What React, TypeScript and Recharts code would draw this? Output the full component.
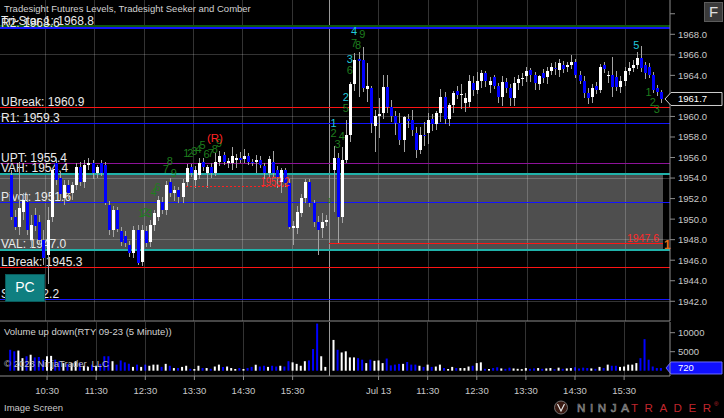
import React from 'react';
import { ComposedChart, Bar, XAxis, YAxis, ReferenceLine, ReferenceArea, ReferenceDot, Cell } from 'recharts';

const FONT = "'Liberation Sans', Arial, sans-serif";

// RTY 09-23, 5 minute bars, two sessions (slot index = bar)
const opens: (number | null)[] = [
  null, null,
  1954.3, 1950.2, 1949.2, 1950.7, 1951.7, 1948.0, 1950.4, 1949.7, 1948.0, 1946.5,
  1950.2, 1955.5, 1954.0, 1952.1, 1953.3, 1952.5, 1953.3, 1955.1, 1953.6, 1955.3,
  1955.5, 1954.5, 1955.5, 1955.3, 1951.4, 1948.9, 1950.9, 1948.8, 1948.4, 1947.5,
  1946.7, 1948.9, 1945.8, 1948.8, 1947.8, 1949.4, 1950.2, 1951.7, 1950.9, 1953.6,
  1952.5, 1952.8, 1952.2, 1953.6, 1955.1, 1953.8, 1954.3, 1955.6, 1954.5, 1955.1,
  1954.5, 1955.6, 1956.2, 1955.5, 1955.5, 1955.8, 1956.0, 1955.9, 1956.1, 1955.6,
  1955.6, 1955.8, 1955.2, 1954.5, 1955.6, 1954.8, 1953.6, 1954.8, 1953.5, 1949.1,
  1949.1, 1950.6, 1952.1, 1953.6, 1951.6, 1949.7, 1949.1, 1949.7, null,
  1954.8, 1956.0, 1950.2, 1955.8, 1958.2, 1963.2, 1965.6, 1965.5, 1962.7, 1962.8,
  1959.1, 1960.0, 1960.3, 1962.9, 1960.9, 1960.0, 1959.4, 1957.7, 1959.8, 1959.7,
  1958.4, 1956.7, 1958.2, 1958.4, 1959.8, 1959.3, 1960.3, 1961.9, 1959.8, 1961.1,
  1962.5, 1962.1, 1961.3, 1961.4, 1963.3, 1962.6, 1963.5, 1964.2, 1963.1, 1963.8,
  1963.0, 1961.9, 1963.4, 1962.8, 1961.8, 1963.3, 1963.6, 1963.9, 1964.5, 1964.0,
  1963.2, 1964.2, 1963.8, 1964.4, 1964.7, 1964.5, 1965.0, 1964.8, 1965.0, 1965.3,
  1964.0, 1963.5, 1962.3, 1961.9, 1963.0, 1962.6, 1965.0, 1963.9, 1964.0, 1963.8,
  1962.9, 1963.5, 1964.4, 1964.7, 1965.0, 1965.7, 1965.0, 1964.8, 1964.0, 1962.8,
  1962.4,
];
const highs: (number | null)[] = [
  null, null,
  1954.8, 1950.9, 1955.6, 1952.5, 1952.4, 1950.4, 1951.1, 1950.4, 1948.9, 1951.2,
  1955.0, 1956.0, 1954.6, 1953.8, 1953.8, 1953.6, 1955.5, 1955.6, 1955.8, 1956.0,
  1955.8, 1955.3, 1955.8, 1955.6, 1951.8, 1951.3, 1951.2, 1949.2, 1948.8, 1947.9,
  1949.3, 1949.4, 1949.4, 1949.3, 1949.9, 1950.9, 1952.3, 1952.2, 1953.7, 1954.0,
  1953.2, 1953.1, 1953.9, 1955.4, 1955.4, 1955.2, 1956.0, 1956.0, 1955.3, 1955.5,
  1956.4, 1956.6, 1956.5, 1956.0, 1957.0, 1956.3, 1956.5, 1956.8, 1956.4, 1955.9,
  1956.2, 1956.1, 1955.5, 1956.1, 1956.6, 1955.2, 1955.0, 1955.0, 1953.9, 1949.8,
  1951.3, 1952.4, 1953.9, 1953.9, 1951.9, 1950.3, 1950.6, 1950.4, null,
  1957.1, 1956.4, 1957.0, 1959.7, 1963.4, 1966.2, 1966.3, 1966.8, 1965.2, 1963.0,
  1960.6, 1961.8, 1964.0, 1964.0, 1961.6, 1960.5, 1960.3, 1960.0, 1960.2, 1960.6,
  1959.0, 1959.0, 1959.5, 1960.3, 1960.2, 1960.5, 1962.7, 1962.4, 1961.3, 1962.5,
  1963.0, 1963.2, 1962.3, 1964.0, 1963.9, 1964.3, 1964.5, 1964.4, 1963.8, 1964.0,
  1963.3, 1963.9, 1963.7, 1963.2, 1963.8, 1964.0, 1964.2, 1964.8, 1964.7, 1964.3,
  1964.0, 1964.6, 1964.8, 1965.2, 1965.3, 1965.6, 1965.4, 1965.3, 1966.0, 1965.6,
  1964.4, 1963.9, 1962.8, 1963.2, 1963.4, 1965.1, 1965.3, 1964.4, 1965.8, 1964.4,
  1963.9, 1964.8, 1965.3, 1965.5, 1966.3, 1966.9, 1965.3, 1965.2, 1964.3, 1963.1,
  1962.6,
];
const lows: (number | null)[] = [
  null, null,
  1949.9, 1948.9, 1948.5, 1949.9, 1948.5, 1947.2, 1948.8, 1947.5, 1945.5, 1943.7,
  1949.7, 1953.3, 1951.9, 1951.4, 1952.0, 1951.9, 1952.8, 1953.2, 1953.0, 1954.8,
  1953.9, 1954.0, 1954.2, 1951.4, 1948.5, 1948.3, 1948.7, 1947.4, 1947.3, 1946.3,
  1946.2, 1945.5, 1945.4, 1947.3, 1947.3, 1948.8, 1949.8, 1950.5, 1950.4, 1952.2,
  1951.8, 1951.6, 1951.6, 1953.2, 1954.1, 1953.0, 1953.9, 1954.7, 1953.0, 1954.0,
  1954.2, 1955.2, 1955.3, 1955.0, 1954.8, 1955.0, 1955.5, 1955.5, 1955.3, 1955.2,
  1954.5, 1955.0, 1953.9, 1954.1, 1954.0, 1953.0, 1952.5, 1953.1, 1949.0, 1947.5,
  1948.6, 1950.2, 1951.6, 1951.2, 1949.2, 1946.5, 1948.2, 1949.3, null,
  1950.7, 1947.7, 1949.6, 1955.5, 1957.5, 1962.5, 1961.9, 1962.4, 1961.4, 1958.4,
  1956.5, 1957.9, 1959.8, 1960.3, 1959.5, 1958.2, 1957.2, 1956.5, 1958.9, 1958.1,
  1956.0, 1956.3, 1957.1, 1957.3, 1958.6, 1958.7, 1959.5, 1959.3, 1959.1, 1960.3,
  1961.7, 1960.7, 1960.4, 1960.9, 1962.0, 1962.2, 1962.8, 1962.9, 1962.3, 1962.7,
  1961.3, 1961.0, 1962.3, 1961.0, 1961.0, 1962.6, 1963.0, 1963.4, 1963.4, 1962.6,
  1962.6, 1963.3, 1963.2, 1964.0, 1964.0, 1963.8, 1964.2, 1964.3, 1964.6, 1963.7,
  1963.2, 1961.8, 1961.2, 1961.3, 1962.2, 1962.3, 1964.2, 1963.3, 1961.9, 1962.5,
  1962.3, 1963.0, 1964.0, 1964.3, 1964.6, 1964.3, 1963.6, 1963.7, 1962.3, 1962.0,
  1961.3,
];
const closes: (number | null)[] = [
  null, null,
  1950.2, 1949.2, 1951.1, 1951.9, 1948.9, 1949.4, 1949.3, 1948.0, 1946.2, 1949.9,
  1954.8, 1953.8, 1952.4, 1953.3, 1952.5, 1953.3, 1955.1, 1953.6, 1955.3, 1955.5,
  1954.5, 1955.1, 1954.5, 1951.6, 1948.9, 1950.9, 1949.0, 1947.8, 1947.7, 1946.7,
  1948.9, 1945.7, 1948.9, 1947.7, 1949.4, 1950.6, 1951.9, 1950.9, 1953.3, 1952.5,
  1952.8, 1952.2, 1953.5, 1955.0, 1954.5, 1954.8, 1955.5, 1955.1, 1955.1, 1954.5,
  1955.6, 1956.1, 1955.6, 1955.7, 1956.1, 1956.0, 1955.8, 1956.1, 1955.6, 1955.5,
  1955.8, 1955.3, 1954.5, 1955.9, 1954.5, 1954.1, 1954.8, 1953.5, 1949.2, 1949.3,
  1950.7, 1952.1, 1953.6, 1951.6, 1949.7, 1948.9, 1949.7, 1949.9, null,
  1956.0, 1950.2, 1955.8, 1958.2, 1963.2, 1965.5, 1965.4, 1962.8, 1963.0, 1959.4,
  1960.0, 1960.2, 1962.9, 1960.9, 1960.0, 1959.4, 1957.7, 1959.9, 1959.6, 1958.7,
  1956.7, 1958.2, 1958.1, 1959.7, 1959.3, 1960.3, 1961.9, 1959.8, 1961.1, 1962.3,
  1962.1, 1962.2, 1961.8, 1963.5, 1962.6, 1963.5, 1964.2, 1963.5, 1963.5, 1963.0,
  1961.9, 1963.4, 1962.8, 1961.8, 1963.3, 1963.6, 1963.7, 1964.4, 1964.0, 1963.3,
  1963.9, 1963.7, 1964.4, 1964.8, 1964.6, 1965.2, 1964.6, 1965.0, 1965.3, 1964.0,
  1963.5, 1962.3, 1961.8, 1962.8, 1962.6, 1964.8, 1964.6, 1964.0, 1962.9, 1962.9,
  1963.5, 1964.4, 1964.7, 1965.0, 1965.7, 1964.7, 1964.2, 1964.0, 1962.6, 1962.4,
  1961.7,
];
const volumes: (number | null)[] = [
  null, null,
  5500, 5100, 5300, 3300, 3800, 4200, 3500, 3600, 2900, 3800,
  3900, 2900, 2500, 2000, 1800, 2000, 2500, 2000, 1300, 1000,
  1600, 1300, 1800, 3800, 3800, 2500, 1600, 2700, 2200, 1800,
  1000, 1600, 1000, 1600, 1300, 1600, 1600, 1000, 1800, 1300,
  700, 700, 1000, 1300, 500, 450, 1300, 700, 700, 500,
  1100, 1600, 1000, 1100, 700, 450, 700, 450, 700, 1000,
  1600, 1100, 1300, 1000, 1300, 1100, 1300, 1100, 2500, 2200,
  1800, 1300, 2500, 2700, 5700, 12400, 3800, 1000, null,
  8100, 5500, 4800, 5100, 3500, 3500, 3300, 2900, 2000, 2900,
  2600, 2700, 2000, 3200, 1400, 1600, 1800, 1800, 2300, 1600,
  1600, 1300, 1000, 1600, 1000, 1100, 1600, 700, 450, 1000,
  700, 700, 700, 1100, 1300, 2000, 2200, 500, 450, 700,
  900, 600, 500, 800, 600, 500, 400, 700, 500, 600,
  700, 500, 600, 700, 400, 800, 500, 600, 700, 900,
  600, 800, 700, 600, 500, 1000, 700, 1600, 1300, 1300,
  1000, 1100, 1600, 1600, 2000, 3300, 8300, 2900, 1100, 700,
  720,
];

const xTickBars = [11, 23, 35, 47, 59, 71, 92, 104, 116, 128, 140, 152];
const xTickLabels = ['10:30', '11:30', '12:30', '13:30', '14:30', '15:30', 'Jul 13', '11:30', '12:30', '13:30', '14:30', '15:30'];
const sessionBreak = 80;
const priceTicks = [1942, 1944, 1946, 1948, 1950, 1952, 1954, 1956, 1958, 1960, 1962, 1964, 1966, 1968, 1970];
const gridPrices = [1942, 1948, 1954, 1960, 1966];
const volTicks = [5000, 10000];

const levelNames = ['Tri-Star 1', 'R2', 'UBreak', 'R1', 'UPT', 'VAH', 'Pivot', 'VAL', 'LBreak', 'S1'];
const levelValues = [1968.8, 1968.6, 1960.9, 1959.3, 1955.4, 1954.4, 1951.6, 1947.0, 1945.3, 1942.2];
const valueArea = [1947.0, 1954.4];
const dayOneHigh = 1953.2; // dotted line, bars 45..70
const dayTwoLow = 1947.6; // solid line from session start

const markBars = [34, 35, 36, 37, 38, 40, 41, 42, 45, 46, 47, 48, 49, 50, 51, 52, 53, 52, 80,
  81, 81, 82, 83, 84, 84, 85, 85, 86, 87, 86, 88, 155, 158, 159, 160];
const markPrices = [1950.6, 1950.7, 1950.6, 1952.6, 1953.1, 1954.9, 1955.7, 1954.45,
  1956.44, 1956.44, 1956.64, 1956.83, 1957.22, 1956.34, 1956.44, 1956.83, 1957.4, 1957.9, 1951.8,
  1959.4, 1958.4, 1957.3, 1958.1, 1961.85, 1960.8, 1965.6, 1964.5, 1967.2, 1966.96, 1968.3, 1968.0,
  1966.96, 1962.4, 1961.45, 1960.7];
const markTexts = ['1', '2', '3', '4', '6', '7', '8', '9', '1', '2', '3', '4', '5', '6', '7', '8', '9', '(R)', '1',
  '1', '2', '3', '4', '2', '5', '3', '6', '7', '8', '4', '9', '5', '1', '2', '3'];
const markKinds = ['count', 'count', 'count', 'count', 'count', 'count', 'count', 'count',
  'count', 'count', 'count', 'count', 'count', 'count', 'count', 'count', 'count', 'signal', 'small',
  'setup', 'count', 'count', 'count', 'setup', 'count', 'setup', 'count', 'count', 'count', 'setup', 'count',
  'setup', 'count', 'count', 'count'];

const levelStyle: Record<string, { color: string; width: number }> = {
  'Tri-Star 1': { color: '#0d560d', width: 2 },
  R2: { color: '#1414ff', width: 2 },
  UBreak: { color: '#ff1414', width: 1 },
  R1: { color: '#1414ff', width: 1 },
  UPT: { color: '#8e129a', width: 1 },
  VAH: { color: '#20b2aa', width: 2 },
  Pivot: { color: '#1414ff', width: 1 },
  VAL: { color: '#20b2aa', width: 2 },
  LBreak: { color: '#ff1414', width: 1 },
  S1: { color: '#1414ff', width: 1 },
};
const markStyle: Record<string, { fill: string; size: number }> = {
  count: { fill: '#1e7d1e', size: 11 },
  setup: { fill: '#20c8dc', size: 11 },
  signal: { fill: '#ff2424', size: 11.5 },
  small: { fill: '#1e7d1e', size: 8 },
};

const rows = opens.map((o, i) => ({
  i,
  range: o == null ? null : [lows[i], highs[i]],
  open: o,
  high: highs[i],
  low: lows[i],
  close: closes[i],
  vol: volumes[i],
}));

const W = 724;
const PRICE_H = 322;
const AXIS_W = 54;
const X_PAD = { left: 0, right: 7 };
const MARGIN = { top: 0, right: 0, bottom: 0, left: 0 };
const priceDomain: [number, number] = [1940.08, 1971.34];
const volDomain: [number, number] = [-1392, 12813];
const GRID = 'rgba(255,255,255,0.2)';
const AXIS = '#8c8c8c';
const tickStyle = { fill: '#c8c8c8', fontSize: 9.5, fontFamily: FONT };

function Candle(props: any) {
  const { x, y, width, height, payload } = props;
  if (!payload || payload.open == null) return null;
  const top = Math.min(y, y + height);
  const bottom = Math.max(y, y + height);
  const { open, close, high, low } = payload;
  const py = (p: number) => (high === low ? top : top + ((high - p) / (high - low)) * (bottom - top));
  const cx = Math.round(x + width / 2);
  const b0 = Math.round(py(Math.max(open, close)));
  const b1 = Math.round(py(Math.min(open, close)));
  return (
    <g shapeRendering="crispEdges">
      <line x1={cx + 0.5} x2={cx + 0.5} y1={Math.round(top)} y2={Math.round(bottom)} stroke="#a4a4a4" strokeWidth={1} />
      <rect x={cx - 1} y={b0} width={3} height={Math.max(1, b1 - b0)} fill={close >= open ? '#ffffff' : '#0000ff'} />
    </g>
  );
}

const marker = (text: string, fill: string, stroke: string, half: number, tip: number) => (p: any) => {
  const xr = p.viewBox.x + p.viewBox.width;
  const y = p.viewBox.y;
  return (
    <g>
      <polygon
        points={`${xr - tip},${y} ${xr + 1},${y - half} ${xr + 52},${y - half} ${xr + 52},${y + half} ${xr + 1},${y + half}`}
        fill={fill}
        stroke={stroke}
      />
      <text x={xr + 8} y={y + 3.4} fill="#ffffff" fontSize={9.5} fontFamily={FONT}>{text}</text>
    </g>
  );
};

function xLabel(v: number) {
  const k = xTickBars.indexOf(v);
  return k >= 0 ? xTickLabels[k] : '';
}

export default function App() {
  const lastClose = closes[closes.length - 1] as number;
  const lastVol = volumes[volumes.length - 1] as number;
  const abs: React.CSSProperties = { position: 'absolute', left: 0 };

  return (
    <div style={{ position: 'absolute', left: 0, top: 0, width: W, height: 418, background: '#000', overflow: 'hidden', fontFamily: FONT }}>
      {/* back layer: value area, grid, levels */}
      <div style={{ ...abs, top: 0 }}>
        <ComposedChart width={W} height={PRICE_H} data={rows} margin={MARGIN}>
          <XAxis dataKey="i" type="category" padding={X_PAD} height={1} tick={false} tickLine={false} axisLine={{ stroke: AXIS }} />
          <YAxis
            orientation="right"
            width={AXIS_W}
            type="number"
            domain={priceDomain}
            allowDataOverflow
            ticks={priceTicks}
            interval={0}
            tickFormatter={(v: number) => (v >= 1970 ? '' : v.toFixed(1))}
            tick={tickStyle}
            tickSize={5}
            tickMargin={3}
            tickLine={{ stroke: AXIS }}
            axisLine={{ stroke: AXIS }}
          />
          <ReferenceArea y1={valueArea[0]} y2={valueArea[1]} fill="#4e4e4e" fillOpacity={1} stroke="none" />
          {gridPrices.map((p) => (
            <ReferenceLine key={'g' + p} y={p} stroke={GRID} shapeRendering="crispEdges" />
          ))}
          {xTickBars.map((b) => (
            <ReferenceLine key={'v' + b} x={b} stroke={GRID} shapeRendering="crispEdges" />
          ))}
          <ReferenceLine x={sessionBreak} stroke="#9a9a9a" shapeRendering="crispEdges" />
          {levelNames.map((name, k) => (
            <ReferenceLine
              key={name}
              y={levelValues[k]}
              stroke={levelStyle[name].color}
              strokeWidth={levelStyle[name].width}
              shapeRendering="crispEdges"
              label={(p: any) => (
                <text x={p.viewBox.x + 1} y={p.viewBox.y - 1.5} fill="#eaeaea" fontSize={12} fontFamily={FONT}>
                  {`${name}: ${levelValues[k].toFixed(1)}`}
                </text>
              )}
            />
          ))}
          <ReferenceLine
            segment={[{ x: sessionBreak, y: dayTwoLow }, { x: rows.length - 1, y: dayTwoLow }]}
            stroke="#ff1414"
            shapeRendering="crispEdges"
            label={(p: any) => (
              <g>
                <text x={p.viewBox.x + p.viewBox.width - 4} y={p.viewBox.y - 2} textAnchor="end" fill="#ff2a2a" fontSize={10.5} fontFamily={FONT}>
                  {dayTwoLow.toFixed(1)}
                </text>
                <text x={p.viewBox.x + p.viewBox.width + 1} y={p.viewBox.y + 5.5} fill="#e0701c" fontSize={12} fontWeight="bold" fontFamily={FONT}>
                  1
                </text>
              </g>
            )}
          />
        </ComposedChart>
      </div>

      {/* front layer: candles and annotations */}
      <div style={{ ...abs, top: 0 }}>
        <ComposedChart width={W} height={PRICE_H} data={rows} margin={MARGIN}>
          <XAxis dataKey="i" type="category" padding={X_PAD} height={1} tick={false} tickLine={false} axisLine={false} />
          <YAxis orientation="right" width={AXIS_W} type="number" domain={priceDomain} allowDataOverflow tick={false} tickLine={false} axisLine={false} />
          <Bar dataKey="range" barSize={3} shape={Candle} isAnimationActive={false} />
          <ReferenceLine
            segment={[{ x: 45, y: dayOneHigh }, { x: 70, y: dayOneHigh }]}
            stroke="#ff2020"
            strokeDasharray="2 2"
            shapeRendering="crispEdges"
            label={(p: any) => (
              <text x={p.viewBox.x + p.viewBox.width + 1} y={p.viewBox.y} textAnchor="end" fill="#ff2a2a" fontSize={13} textLength={29} lengthAdjust="spacingAndGlyphs" fontFamily={FONT}>
                {dayOneHigh.toFixed(1)}
              </text>
            )}
          />
          {markBars.map((b, k) => (
            <ReferenceDot
              key={'m' + k}
              x={b}
              y={markPrices[k]}
              r={1}
              shape={(p: any) => (
                <text
                  x={p.cx}
                  y={p.cy}
                  textAnchor="middle"
                  dominantBaseline="central"
                  fill={markStyle[markKinds[k]].fill}
                  fontSize={markStyle[markKinds[k]].size}
                  fontFamily={FONT}
                >
                  {markTexts[k]}
                </text>
              )}
            />
          ))}
          <ReferenceLine y={lastClose} stroke="none" label={marker(lastClose.toFixed(1), '#000000', '#cfcfcf', 6.5, 5)} />
        </ComposedChart>
      </div>

      {/* volume panel */}
      <div style={{ ...abs, top: PRICE_H }}>
        <ComposedChart width={W} height={96} data={rows} margin={MARGIN}>
          <XAxis
            dataKey="i"
            type="category"
            padding={X_PAD}
            height={42}
            ticks={xTickBars}
            interval={0}
            tickFormatter={xLabel}
            tick={tickStyle}
            tickSize={4}
            tickMargin={7}
            tickLine={{ stroke: AXIS }}
            axisLine={{ stroke: AXIS }}
          />
          <YAxis
            orientation="right"
            width={AXIS_W}
            type="number"
            domain={volDomain}
            allowDataOverflow
            ticks={volTicks}
            interval={0}
            tick={tickStyle}
            tickSize={5}
            tickMargin={3}
            tickLine={{ stroke: AXIS }}
            axisLine={{ stroke: AXIS }}
          />
          {xTickBars.map((b) => (
            <ReferenceLine key={'vv' + b} x={b} stroke={GRID} shapeRendering="crispEdges" />
          ))}
          <ReferenceLine x={sessionBreak} stroke="#9a9a9a" shapeRendering="crispEdges" />
          <Bar dataKey="vol" barSize={2} isAnimationActive={false}>
            {rows.map((r) => (
              <Cell key={r.i} fill={r.close != null && r.open != null && r.close >= r.open ? '#ffffff' : '#0000ff'} />
            ))}
          </Bar>
          <ReferenceLine y={lastVol} stroke="none" label={marker(String(lastVol), '#1010ff', '#6a6aff', 6, 4)} />
        </ComposedChart>
      </div>

      {/* chrome: titles, buttons, watermark */}
      <svg width={W} height={418} style={{ position: 'absolute', left: 0, top: 0, pointerEvents: 'none' }} fontFamily={FONT}>
        <text x={4} y={12.3} fontSize={9.5} fill="#d2d2d2">Tradesight Futures Levels, Tradesight Seeker and Comber</text>
        <text x={4} y={335} fontSize={9.5} fill="#d2d2d2">Volume up down(RTY 09-23 (5 Minute))</text>
        <text x={4} y={366.5} fontSize={9.5} fill="#bdbdbd">© 2023 NinjaTrader, LLC</text>
        <text x={4} y={411} fontSize={9.5} fill="#c8c8c8">Image Screen</text>

        <rect x={5.5} y={274.5} width={39} height={27} fill="#0f7f80" stroke="#0a5c5d" />
        <text x={25} y={292.3} textAnchor="middle" fontSize={14} fill="#ffffff">PC</text>

        <rect x={704.5} y={2.5} width={18} height={19} fill="#3a3a3a" stroke="#5c5c5c" />
        <text x={713.5} y={17.3} textAnchor="middle" fontSize={15} fill="#e0e0e0">F</text>

        <circle cx={561} cy={407.5} r={6.5} fill="#3a1a12" stroke="#8a8a8a" strokeWidth={0.8} />
        <path d="M557.5,404 L561,411 L564.5,404" fill="none" stroke="#e6e6e6" strokeWidth={1.2} />
        <text x={577} y={412.3} fontSize={11.6} fill="#141414" stroke="#8c8c8c" strokeWidth={0.7} textLength={52} lengthAdjust="spacing">NINJA</text>
        <text x={631} y={412.3} fontSize={11.6} fill="#c0262d" textLength={80} lengthAdjust="spacing">TRADER</text>
        <text x={714} y={405.5} fontSize={6} fill="#c0262d">®</text>
      </svg>
    </div>
  );
}
